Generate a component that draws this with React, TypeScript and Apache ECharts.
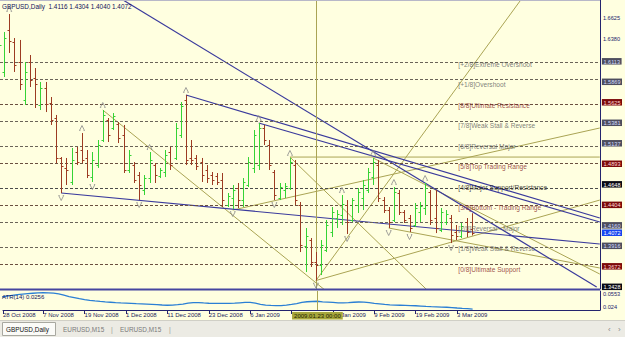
import React, { useEffect, useRef } from 'react';
import * as echarts from 'echarts';

const symbol = 'GBPUSD';
const period = 'Daily';

const dates = [
  '2008.10.28','2008.10.29','2008.10.30','2008.10.31',
  '2008.11.03','2008.11.04','2008.11.05','2008.11.06','2008.11.07',
  '2008.11.10','2008.11.11','2008.11.12','2008.11.13','2008.11.14',
  '2008.11.17','2008.11.18','2008.11.19','2008.11.20','2008.11.21',
  '2008.11.24','2008.11.25','2008.11.26','2008.11.27','2008.11.28',
  '2008.12.01','2008.12.02','2008.12.03','2008.12.04','2008.12.05',
  '2008.12.08','2008.12.09','2008.12.10','2008.12.11','2008.12.12',
  '2008.12.15','2008.12.16','2008.12.17','2008.12.18','2008.12.19',
  '2008.12.22','2008.12.23','2008.12.24','2008.12.26',
  '2008.12.29','2008.12.30','2008.12.31',
  '2009.01.02','2009.01.05','2009.01.06','2009.01.07','2009.01.08','2009.01.09',
  '2009.01.12','2009.01.13','2009.01.14','2009.01.15','2009.01.16',
  '2009.01.19','2009.01.20','2009.01.21','2009.01.22','2009.01.23',
  '2009.01.26','2009.01.27','2009.01.28','2009.01.29','2009.01.30',
  '2009.02.02','2009.02.03','2009.02.04','2009.02.05','2009.02.06',
  '2009.02.09','2009.02.10','2009.02.11','2009.02.12','2009.02.13',
  '2009.02.16','2009.02.17','2009.02.18','2009.02.19','2009.02.20',
  '2009.02.23','2009.02.24','2009.02.25','2009.02.26','2009.02.27',
  '2009.03.02','2009.03.03','2009.03.04','2009.03.05','2009.03.06',
];

const open = [
  1.6129,1.5986,1.6486,1.6343,1.6105,1.5652,1.6105,1.5914,1.5593,1.5795,
  1.5616,1.5438,1.4962,1.4843,1.4676,1.5033,1.5057,1.4962,1.4735,1.4878,
  1.5176,1.5414,1.5319,1.5366,1.5235,1.4819,1.4878,1.4759,1.4581,1.4723,
  1.4878,1.4747,1.4795,1.5033,1.4962,1.5235,1.5652,1.4962,1.4962,1.4914,
  1.4819,1.4759,1.4747,1.4700,1.4402,1.4485,1.4604,1.4461,1.4640,1.4843,
  1.4878,1.5319,1.5116,1.4795,1.4485,1.4581,1.4604,1.4878,1.4402,1.3914,
  1.3985,1.3723,1.3687,1.3866,1.4080,1.4247,1.4283,1.4402,1.4223,1.4402,
  1.4485,1.4581,1.4735,1.4878,1.4461,1.4342,1.4223,1.4545,1.4319,1.4247,
  1.4164,1.4319,1.4366,1.4557,1.4247,1.4104,1.4200,1.4247,1.4080,1.4033,
  1.4200,1.4116,
];
const high = [
  1.6367,1.6462,1.6676,1.6390,1.6367,1.6105,1.6188,1.6033,1.5867,1.5867,
  1.5688,1.5474,1.4973,1.4962,1.5081,1.5093,1.5259,1.5057,1.5033,1.5176,
  1.5533,1.5438,1.5497,1.5390,1.5355,1.5057,1.4914,1.4795,1.4759,1.5033,
  1.4902,1.4843,1.5057,1.5093,1.5378,1.5628,1.5712,1.5176,1.4997,1.4962,
  1.4878,1.4795,1.4783,1.4783,1.4545,1.4640,1.4664,1.4723,1.4973,1.5295,
  1.5378,1.5355,1.5176,1.4819,1.4664,1.4664,1.4962,1.4938,1.4438,1.4128,
  1.4009,1.3842,1.3985,1.4223,1.4378,1.4342,1.4521,1.4461,1.4485,1.4604,
  1.4700,1.4843,1.4962,1.4938,1.4497,1.4378,1.4616,1.4581,1.4342,1.4283,
  1.4426,1.4438,1.4664,1.4581,1.4581,1.4366,1.4342,1.4283,1.4164,1.4188,
  1.4247,1.4304,
];
const low = [
  1.5950,1.5926,1.6212,1.5986,1.5771,1.5593,1.5807,1.5557,1.5533,1.5509,
  1.5355,1.4902,1.4545,1.4640,1.4640,1.4878,1.4902,1.4723,1.4676,1.4843,
  1.5152,1.5152,1.5295,1.5140,1.4783,1.4783,1.4664,1.4461,1.4521,1.4664,
  1.4664,1.4723,1.4735,1.4819,1.4938,1.5200,1.4878,1.4878,1.4819,1.4676,
  1.4664,1.4640,1.4640,1.4378,1.4378,1.4354,1.4366,1.4378,1.4616,1.4783,
  1.4819,1.5116,1.4819,1.4461,1.4461,1.4485,1.4581,1.4402,1.3842,1.3604,
  1.3664,1.3503,1.3568,1.3842,1.4021,1.4128,1.4164,1.4057,1.4200,1.4307,
  1.4342,1.4545,1.4640,1.4438,1.4307,1.4128,1.4200,1.4283,1.4188,1.4080,
  1.4140,1.4200,1.4283,1.4164,1.4068,1.4080,1.4164,1.3949,1.3985,1.4009,
  1.4021,1.4040,
];
const close = [
  1.6307,1.6390,1.6355,1.6069,1.5843,1.5986,1.5890,1.5843,1.5795,1.5605,
  1.5414,1.4962,1.4866,1.4819,1.4938,1.4914,1.4938,1.4759,1.4938,1.5116,
  1.5474,1.5235,1.5462,1.5200,1.4819,1.4997,1.4700,1.4640,1.4723,1.4938,
  1.4759,1.4819,1.4997,1.4878,1.5319,1.5581,1.4938,1.4938,1.4866,1.4759,
  1.4723,1.4700,1.4676,1.4461,1.4509,1.4581,1.4461,1.4676,1.4914,1.5235,
  1.5319,1.5176,1.4878,1.4521,1.4616,1.4628,1.4914,1.4461,1.3926,1.4033,
  1.3723,1.3687,1.3926,1.4164,1.4319,1.4295,1.4414,1.4200,1.4461,1.4557,
  1.4640,1.4795,1.4914,1.4485,1.4342,1.4200,1.4557,1.4319,1.4223,1.4128,
  1.4366,1.4390,1.4604,1.4223,1.4128,1.4319,1.4295,1.4045,1.4033,1.4152,
  1.4080,1.4072,
];

const atr = [
  0.0455,0.0468,0.0480,0.0492,0.0503,0.0510,0.0516,0.0521,0.0525,0.0522,
  0.0517,0.0505,0.0485,0.0462,0.0445,0.0428,0.0412,0.0400,0.0390,0.0381,
  0.0374,0.0368,0.0362,0.0357,0.0353,0.0349,0.0344,0.0340,0.0336,0.0332,
  0.0327,0.0322,0.0318,0.0320,0.0327,0.0337,0.0352,0.0363,0.0362,0.0356,
  0.0351,0.0349,0.0348,0.0350,0.0350,0.0354,0.0359,0.0364,0.0366,0.0352,
  0.0333,0.0321,0.0316,0.0312,0.0313,0.0322,0.0332,0.0345,0.0366,0.0376,
  0.0380,0.0384,0.0375,0.0370,0.0365,0.0358,0.0357,0.0362,0.0368,0.0372,
  0.0370,0.0362,0.0350,0.0342,0.0333,0.0326,0.0321,0.0318,0.0315,0.0312,
  0.0310,0.0305,0.0300,0.0296,0.0293,0.0289,0.0285,0.0280,0.0273,0.0267,
  0.0262,0.0256,
];

const murrayLevels = [1.6113,1.5869,1.5625,1.5381,1.5137,1.4893,1.4648,1.4404,1.4160,1.3916,1.3672,1.3428];
const murrayNames = [
  '[+2/8]Extreme Overshoot','[+1/8]Overshoot','[8/8]Ultimate Resistance','[7/8]Weak Stall & Reverse',
  '[6/8]Reversal Major','[5/8]Top Trading Range','[4/8]Major Support/Resistance','[3/8]Bottom - Trading Range',
  '[2/8]Reversal - Major','[1/8]Weak Stall & Reverse','[0/8]Ultimate Support','',
];
const murrayKinds = ['g','g','r','g','g','r','k','r','g','g','r','k'];
const murrayTextAt = 88.3;

const priceTicks = [1.6625, 1.638];
const lastPrice = 1.4072;
const atrTicks = [0.0553, 0.024];
const dateTickIdx = [0, 8, 16, 24, 32, 40, 48, 56, 64, 72, 80, 88];
const dateLabelIdx = [0, 8, 16, 24, 32, 40, 48, 64, 72, 80, 88];
const timeLineIdx = 61;
const timeLineLabel = '2009.01.23 00:00';

const upFractals = [2, 16, 20, 29, 36, 50, 56, 66, 72, 76, 82];
const downFractals = [12, 18, 27, 45, 53, 61, 67, 75, 79, 87];

const blueLines = [
  [[23.9, 1.6843], [115.0, 1.3425]],
  [[36, 1.5712], [115.6, 1.4247]],
  [[50, 1.5378], [115.6, 1.42]],
  [[12, 1.4545], [115.6, 1.3938]],
];
const oliveLines = [
  [[56, 1.4973], [115.6, 1.4973]],
  [[20, 1.5533], [70, 1.3025]],
  [[61, 1.3503], [100.4, 1.6843]],
  [[45, 1.4342], [115.6, 1.5319]],
  [[61, 1.3503], [115.6, 1.4461]],
  [[56, 1.4973], [90, 1.2933]],
  [[75, 1.4128], [115.6, 1.3652]],
  [[72, 1.4962], [115.6, 1.3580]],
];

const MONTHS = ['Jan','Feb','Mar','Apr','May','Jun','Jul','Aug','Sep','Oct','Nov','Dec'];
const FONT = 'Liberation Sans, Arial, sans-serif';
const UP = '#35d335';
const DOWN = '#9c3b22';
const NAVY = '#24246e';
const OLIVE = '#aaa454';
const BLUE_LINE = '#3a3a9c';

function fmtDate(d: string) {
  const [y, m, dd] = d.split('.');
  return `${parseInt(dd, 10)} ${MONTHS[parseInt(m, 10) - 1]} ${y}`;
}

const X_MIN = 0.23;
const X_MAX = 115.62;
const Y_MIN = 1.3402;
const Y_MAX = 1.6843;

export default function App() {
  const ref = useRef<HTMLDivElement>(null);
  useEffect(() => {
    document.body.style.margin = '0';
    const chart = echarts.init(ref.current!, undefined, { renderer: 'svg' });
    const n = dates.length;
    const ohlc = dates.map((_, i) => [i, open[i], high[i], low[i], close[i]]);

    const kindOf = (v: number) => {
      if (Math.abs(v - lastPrice) < 1e-6) return 'b';
      for (let k = 0; k < murrayLevels.length; k++) {
        if (Math.abs(v - murrayLevels[k]) < 1e-6) return murrayKinds[k];
      }
      return 'p';
    };
    const textColor: Record<string, string> = { g: '#5e5e5e', r: '#861c1c', k: '#111111' };
    const lineColor: Record<string, string> = { g: '#6a6458', r: '#6a5040', k: '#4a4a4a' };

    const boxBase = { fontSize: 5.6, fontFamily: FONT, padding: [0.5, 1.5, 0, 1.5], lineHeight: 6 };
    const clampX = (i: number) => Math.max(i, X_MIN);

    const series: any[] = [
      {
        type: 'custom',
        xAxisIndex: 0,
        yAxisIndex: 0,
        data: ohlc,
        encode: { x: 0, y: [1, 2, 3, 4] },
        clip: true,
        z: 5,
        renderItem: (params: any, api: any) => {
          const i = api.value(0);
          const o = api.coord([i, api.value(1)]);
          const h = api.coord([i, api.value(2)]);
          const l = api.coord([i, api.value(3)]);
          const c = api.coord([i, api.value(4)]);
          const x = Math.round(o[0]) + 0.5;
          const color = api.value(4) >= api.value(1) ? UP : DOWN;
          const st = { stroke: color, lineWidth: 1 };
          const yo = Math.round(o[1]) + 0.5;
          const yc = Math.round(c[1]) + 0.5;
          return {
            type: 'group',
            children: [
              { type: 'line', shape: { x1: x, y1: h[1], x2: x, y2: l[1] }, style: st },
              { type: 'line', shape: { x1: x - 2, y1: yo, x2: x, y2: yo }, style: st },
              { type: 'line', shape: { x1: x, y1: yc, x2: x + 2, y2: yc }, style: st },
            ],
          };
        },
        markLine: {
          silent: true,
          symbol: 'none',
          animation: false,
          label: { show: false },
          data: [
            ...murrayLevels.map((lv, k) => ({
              yAxis: lv,
              lineStyle: { color: lineColor[murrayKinds[k]], type: [3, 2], width: 1 },
            })),
            { xAxis: timeLineIdx, lineStyle: { color: OLIVE, type: 'solid', width: 1 } },
          ],
        },
      },
      ...blueLines.map((seg) => ({
        type: 'line', xAxisIndex: 0, yAxisIndex: 0, data: seg, symbol: 'none', silent: true, z: 4,
        lineStyle: { color: BLUE_LINE, width: 1.2 },
      })),
      ...oliveLines.map((seg) => ({
        type: 'line', xAxisIndex: 0, yAxisIndex: 0, data: seg, symbol: 'none', silent: true, z: 3,
        lineStyle: { color: OLIVE, width: 1 },
      })),
      {
        type: 'scatter', xAxisIndex: 0, yAxisIndex: 0, silent: true, z: 6,
        data: upFractals.map((i) => [i, high[i]]),
        symbol: 'path://M0,9 L4,0 L8,9 M0,9 L1.5,9 M6.5,9 L8,9',
        symbolSize: [5, 5],
        symbolOffset: [0, -5],
        itemStyle: { color: 'rgba(0,0,0,0)', borderColor: '#8a8a8a', borderWidth: 1 },
      },
      {
        type: 'scatter', xAxisIndex: 0, yAxisIndex: 0, silent: true, z: 6,
        data: downFractals.map((i) => [i, low[i]]),
        symbol: 'path://M0,0 L4,9 L8,0 M0,0 L1.5,0 M6.5,0 L8,0',
        symbolSize: [5, 5],
        symbolOffset: [0, 5],
        itemStyle: { color: 'rgba(0,0,0,0)', borderColor: '#8a8a8a', borderWidth: 1 },
      },
      {
        type: 'scatter', xAxisIndex: 0, yAxisIndex: 0, silent: true, z: 7,
        symbolSize: 1,
        itemStyle: { color: 'rgba(0,0,0,0)' },
        data: murrayLevels
          .map((lv, k) => ({
            name: murrayNames[k],
            value: [murrayTextAt, lv],
            label: { color: textColor[murrayKinds[k]] },
          }))
          .filter((d) => d.name !== ''),
        label: {
          show: true, position: 'right', distance: 0, offset: [0, 3],
          formatter: (p: any) => p.name, fontSize: 6.6, fontFamily: FONT,
        },
      },
      {
        type: 'line', xAxisIndex: 1, yAxisIndex: 1, data: atr.map((v, i) => [i, v]),
        symbol: 'none', silent: true, lineStyle: { color: '#2b7fd4', width: 1.3 },
        markLine: {
          silent: true, symbol: 'none', animation: false, label: { show: false },
          data: [{ xAxis: timeLineIdx, lineStyle: { color: OLIVE, type: 'solid', width: 1 } }],
        },
      },
    ];

    const last = n - 1;
    const title = `${symbol},${period}  ${open[last].toFixed(4)} ${high[last].toFixed(4)} ${low[last].toFixed(4)} ${close[last].toFixed(4)}`;

    chart.setOption({
      animation: false,
      backgroundColor: '#ffffe0',
      grid: [
        { left: 0, top: 0, width: 600, height: 289 },
        { left: 0, top: 291, width: 600, height: 19 },
      ],
      xAxis: [
        { gridIndex: 0, type: 'value', min: X_MIN, max: X_MAX, show: false },
        {
          gridIndex: 1, type: 'value', min: X_MIN, max: X_MAX, position: 'bottom',
          axisLine: { show: true, lineStyle: { color: NAVY, width: 1 } },
          splitLine: { show: false },
          axisTick: { show: true, customValues: dateTickIdx.map(clampX), length: 4, lineStyle: { color: NAVY } },
          axisLabel: {
            customValues: dateLabelIdx.map(clampX), formatter: (v: number) => fmtDate(dates[Math.round(v)]),
            fontSize: 6, fontFamily: FONT, color: '#1c1c5c', align: 'left', margin: 2,
          },
        },
        {
          gridIndex: 1, type: 'value', min: X_MIN, max: X_MAX, position: 'bottom',
          axisLine: { show: false }, axisTick: { show: false }, splitLine: { show: false },
          axisLabel: {
            customValues: [timeLineIdx], formatter: () => timeLineLabel,
            fontSize: 6, fontFamily: FONT, color: '#1e1e00', backgroundColor: '#a6a63c',
            padding: [1, 2, 0.5, 2], align: 'center', margin: 2,
          },
        },
      ],
      yAxis: [
        {
          gridIndex: 0, type: 'value', min: Y_MIN, max: Y_MAX, position: 'right',
          axisLine: { show: true, lineStyle: { color: NAVY, width: 1 } },
          axisTick: { show: false }, splitLine: { show: false },
          axisLabel: {
            customValues: [...priceTicks, ...murrayLevels, lastPrice],
            margin: 2,
            formatter: (v: number) => `{${kindOf(v)}|${v.toFixed(4)}}`,
            rich: {
              p: { ...boxBase, color: '#22226a', padding: [0, 0, 0, 1] },
              g: { ...boxBase, color: '#d4dcff', backgroundColor: '#4e4e5e' },
              r: { ...boxBase, color: '#ffd8d8', backgroundColor: '#7c0a0a' },
              k: { ...boxBase, color: '#ffffff', backgroundColor: '#0a0a14' },
              b: { ...boxBase, color: '#ffffff', backgroundColor: '#1846f0' },
            },
          },
        },
        {
          gridIndex: 1, type: 'value', min: atrTicks[1], max: atrTicks[0], position: 'right',
          axisLine: { show: true, lineStyle: { color: NAVY, width: 1 } },
          axisTick: { show: false }, splitLine: { show: false },
          axisLabel: {
            customValues: [atrTicks[0]], verticalAlign: 'top', margin: 3,
            formatter: (v: number) => v.toFixed(4), fontSize: 5.6, fontFamily: FONT, color: '#22226a',
          },
        },
        {
          gridIndex: 1, type: 'value', min: atrTicks[1], max: atrTicks[0], position: 'right',
          axisLine: { show: false }, axisTick: { show: false }, splitLine: { show: false },
          axisLabel: {
            customValues: [atrTicks[1]], verticalAlign: 'bottom', margin: 3,
            formatter: (v: number) => String(v), fontSize: 5.6, fontFamily: FONT, color: '#22226a',
          },
        },
      ],
      graphic: [
        { type: 'line', shape: { x1: 0, y1: 0.5, x2: 600, y2: 0.5 }, style: { stroke: '#b8b8c8', lineWidth: 1 }, z: 50 },
        { type: 'rect', shape: { x: 0, y: 288.5, width: 600, height: 2 }, style: { fill: '#4646a0' }, z: 50 },
        {
          type: 'text', x: 2, y: 6, z: 50,
          style: { text: title, fontSize: 6.4, fontFamily: FONT, fill: '#12125a', verticalAlign: 'middle' },
        },
        {
          type: 'text', x: 2, y: 296.5, z: 50,
          style: { text: `ATR(14) ${atr[last].toFixed(4)}`, fontSize: 6, fontFamily: FONT, fill: '#12125a', verticalAlign: 'middle' },
        },
        { type: 'rect', shape: { x: 0, y: 320, width: 625, height: 17 }, style: { fill: '#ecebe4' }, z: 40 },
        { type: 'line', shape: { x1: 0, y1: 320.5, x2: 625, y2: 320.5 }, style: { stroke: '#d0cfc6', lineWidth: 1 }, z: 41 },
        { type: 'rect', shape: { x: 2.5, y: 322.5, width: 53, height: 13 }, style: { fill: '#fbfbf8', stroke: '#a8a8a0', lineWidth: 1 }, z: 42 },
        {
          type: 'text', x: 6, y: 329, z: 43,
          style: { text: `${symbol},${period}`, fontSize: 6.4, fontFamily: FONT, fill: '#111', verticalAlign: 'middle' },
        },
        { type: 'text', x: 63, y: 329, z: 43, style: { text: 'EURUSD,M15', fontSize: 6.4, fontFamily: FONT, fill: '#7a7a7a', verticalAlign: 'middle' } },
        { type: 'text', x: 111, y: 329, z: 43, style: { text: '|', fontSize: 7, fontFamily: FONT, fill: '#9a9a9a', verticalAlign: 'middle' } },
        { type: 'text', x: 120, y: 329, z: 43, style: { text: 'EURUSD,M15', fontSize: 6.4, fontFamily: FONT, fill: '#7a7a7a', verticalAlign: 'middle' } },
        { type: 'text', x: 169, y: 329, z: 43, style: { text: '|', fontSize: 7, fontFamily: FONT, fill: '#9a9a9a', verticalAlign: 'middle' } },
        { type: 'text', x: 608, y: 329, z: 43, style: { text: '‹', fontSize: 8, fontFamily: FONT, fill: '#8a8a8a', verticalAlign: 'middle' } },
        { type: 'text', x: 618, y: 329, z: 43, style: { text: '›', fontSize: 8, fontFamily: FONT, fill: '#8a8a8a', verticalAlign: 'middle' } },
      ],
      series,
    });
    return () => chart.dispose();
  }, []);
  return <div ref={ref} style={{ position: 'fixed', left: 0, top: 0, width: 625, height: 337 }} />;
}
